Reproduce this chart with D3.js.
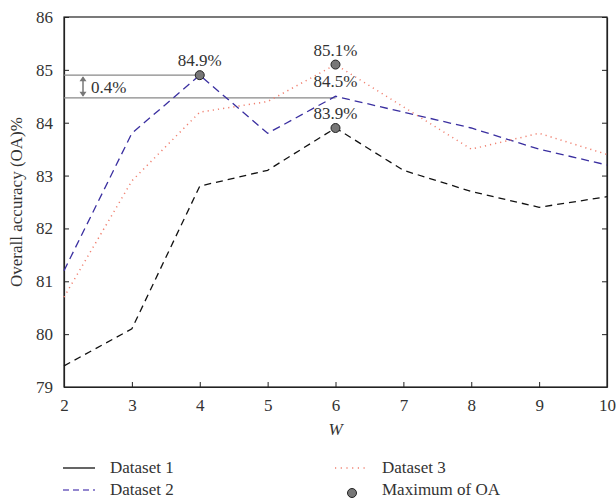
<!DOCTYPE html>
<html>
<head>
<meta charset="utf-8">
<script src="https://cdn.jsdelivr.net/npm/d3@7"></script>
<style>
body { margin: 0; background: #fff; }
svg text { font-family: "Liberation Serif", "Times New Roman", Times, serif; fill: #333; }
</style>
</head>
<body>
<div id="container"></div>
<script>
// Data
const windows = [2, 3, 4, 5, 6, 7, 8, 9, 10];
const dataset1 = [79.4, 80.1, 82.8, 83.1, 83.9, 83.1, 82.7, 82.4, 82.6];
const dataset2 = [81.2, 83.8, 84.9, 83.8, 84.5, 84.2, 83.9, 83.5, 83.2];
const dataset3 = [80.7, 82.9, 84.2, 84.4, 85.1, 84.3, 83.5, 83.8, 83.4];
const maxPoints = [[4, 84.9], [6, 85.1], [6, 83.9]];
const valueLabels = [[4, 84.9, "84.9%"], [6, 85.1, "85.1%"], [6, 84.5, "84.5%"], [6, 83.9, "83.9%"]];
const yTicks = [79, 80, 81, 82, 83, 84, 85, 86];

const width = 616;
const height = 501;
const marginLeft = 64, marginRight = 9, marginTop = 17, marginBottom = 114;
const fontSize = 17;

const x = d3.scaleLinear()
    .domain([2, 10])
    .range([marginLeft, width - marginRight]);

const y = d3.scaleLinear()
    .domain([79, 86])
    .range([height - marginBottom, marginTop]);

const svg = d3.create("svg")
    .attr("width", width)
    .attr("height", height);

// frame
svg.append("rect")
    .attr("x", x(2)).attr("y", y(86))
    .attr("width", x(10) - x(2)).attr("height", y(79) - y(86))
    .attr("fill", "none").attr("stroke", "#222").attr("stroke-width", 1.2);

// axes with inward ticks
const xAxis = svg.append("g")
    .attr("transform", `translate(0,${y(79)})`)
    .call(d3.axisBottom(x).tickValues(windows).tickFormat(d3.format("d"))
        .tickSizeInner(-5).tickSizeOuter(0).tickPadding(12));
const yAxis = svg.append("g")
    .attr("transform", `translate(${x(2)},0)`)
    .call(d3.axisLeft(y).tickValues(yTicks).tickFormat(d3.format("d"))
        .tickSizeInner(-5).tickSizeOuter(0).tickPadding(11));
const yAxisR = svg.append("g")
    .attr("transform", `translate(${x(10)},0)`)
    .call(d3.axisRight(y).tickValues(yTicks).tickSizeInner(-5).tickSizeOuter(0).tickFormat(""));
[xAxis, yAxis, yAxisR].forEach(g => {
    g.attr("font-family", null);
    g.select(".domain").attr("stroke", "#222").attr("stroke-width", 1.2);
    g.selectAll(".tick line").attr("stroke", "#222");
    g.selectAll("text").attr("font-size", fontSize).attr("fill", "#333");
});

// axis titles
svg.append("text")
    .attr("x", x(6)).attr("y", 435)
    .attr("text-anchor", "middle")
    .attr("font-size", fontSize).attr("font-style", "italic")
    .text("W");
svg.append("text")
    .attr("transform", `translate(22,${(y(79) + y(86)) / 2}) rotate(-90)`)
    .attr("text-anchor", "middle")
    .attr("font-size", fontSize)
    .text("Overall accuracy (OA)%");

// reference lines for the 0.4% gap
svg.append("line")
    .attr("x1", x(2)).attr("x2", x(4))
    .attr("y1", y(84.9)).attr("y2", y(84.9))
    .attr("stroke", "#888").attr("stroke-width", 1.2);
svg.append("line")
    .attr("x1", x(2)).attr("x2", x(6))
    .attr("y1", y(84.47)).attr("y2", y(84.47))
    .attr("stroke", "#888").attr("stroke-width", 1.2);

// double arrow
const ax = 83;
svg.append("line")
    .attr("x1", ax).attr("x2", ax)
    .attr("y1", y(84.9) + 2).attr("y2", y(84.47) - 2)
    .attr("stroke", "#777").attr("stroke-width", 1.5);
svg.append("path")
    .attr("d", `M${ax - 3.5},${y(84.9) + 6}L${ax},${y(84.9) + 1}L${ax + 3.5},${y(84.9) + 6}Z`)
    .attr("fill", "#777");
svg.append("path")
    .attr("d", `M${ax - 3.5},${y(84.47) - 6}L${ax},${y(84.47) - 1}L${ax + 3.5},${y(84.47) - 6}Z`)
    .attr("fill", "#777");
svg.append("text")
    .attr("x", 91).attr("y", (y(84.9) + y(84.47)) / 2 + 6)
    .attr("font-size", fontSize)
    .text("0.4%");

// series lines
const line = d3.line()
    .x((d, i) => x(windows[i]))
    .y(d => y(d));

const series = [
    {values: dataset1, color: "#111", dash: "7,5", width: 1.3},
    {values: dataset2, color: "#3a2fa0", dash: "8,5", width: 1.3},
    {values: dataset3, color: "#f08070", dash: "1.2,4", width: 1.5}
];
series.forEach(s => {
    svg.append("path")
        .attr("fill", "none")
        .attr("stroke", s.color)
        .attr("stroke-width", s.width)
        .attr("stroke-dasharray", s.dash)
        .attr("d", line(s.values));
});

// maximum markers
svg.selectAll(".max")
    .data(maxPoints)
    .join("circle")
    .attr("cx", d => x(d[0]))
    .attr("cy", d => y(d[1]))
    .attr("r", 4.5)
    .attr("fill", "#777")
    .attr("stroke", "#222")
    .attr("stroke-width", 1);

svg.selectAll(".vlabel")
    .data(valueLabels)
    .join("text")
    .attr("x", d => x(d[0]))
    .attr("y", d => y(d[1]) - 9)
    .attr("text-anchor", "middle")
    .attr("font-size", fontSize)
    .text(d => d[2]);

// legend
const legend = svg.append("g");
const legendItems = [
    {label: "Dataset 1", x: 63, y: 468, type: "line", color: "#111", dash: null},
    {label: "Dataset 2", x: 63, y: 490, type: "line", color: "#7060c0", dash: "6,4"},
    {label: "Dataset 3", x: 335, y: 468, type: "line", color: "#f08070", dash: "1.2,4.5"},
    {label: "Maximum of OA", x: 335, y: 490, type: "dot"}
];
legendItems.forEach(d => {
    if (d.type === "line") {
        legend.append("line")
            .attr("x1", d.x).attr("x2", d.x + 32)
            .attr("y1", d.y).attr("y2", d.y)
            .attr("stroke", d.color).attr("stroke-width", 1.3)
            .attr("stroke-dasharray", d.dash);
    } else {
        legend.append("circle")
            .attr("cx", d.x + 17).attr("cy", d.y + 3)
            .attr("r", 4.5)
            .attr("fill", "#777").attr("stroke", "#222");
    }
    legend.append("text")
        .attr("x", d.x + 47).attr("y", d.y + 5)
        .attr("font-size", fontSize)
        .text(d.label);
});

container.append(svg.node());
</script>
</body>
</html>
